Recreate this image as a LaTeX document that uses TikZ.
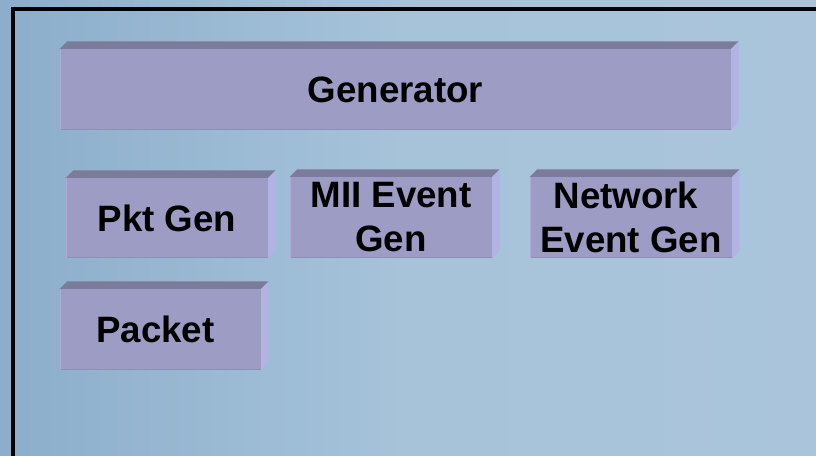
\documentclass[tikz,border=0pt]{standalone}
\usepackage{fontspec}
\setmainfont{Liberation Sans}
\usetikzlibrary{calc}
\definecolor{bgL}{HTML}{8CAECB}
\definecolor{bgM}{HTML}{A6C3DA}
\definecolor{bgR}{HTML}{AAC5DB}
\definecolor{faceC}{HTML}{9D9CC5}
\definecolor{topC}{HTML}{7B7B9C}
\definecolor{sideC}{HTML}{B3B3E3}
\definecolor{botC}{HTML}{8F8EB8}
\definecolor{leftC}{HTML}{ADACD6}
\tikzset{
  cubebox/.style={fill=faceC, inner sep=0pt, align=center,
    font=\bfseries\fontsize{36.7}{44}\selectfont},
  topface/.style={fill=topC},
  sideface/.style={fill=sideC},
  frame/.style={line width=3.5pt, draw=black}
}
\begin{document}
\begin{tikzpicture}[x=1pt,y=-1pt]
\useasboundingbox (0,0) rectangle (816,455);
\clip (0,0) rectangle (816,455);
\shade[left color=bgL, right color=bgR, middle color=bgM] (0,0) rectangle (816,455);
\draw[frame] (12.75,470) -- (12.75,9) -- (830,9);

\node[cubebox, minimum width=671pt, minimum height=81pt] (gen) at (395.5,89.5) {Generator};
\node[cubebox, minimum width=202pt, minimum height=80pt] (pkt) at (167,218) {Pkt Gen};
\node[cubebox, minimum width=202pt, minimum height=81pt] (mii) at (391,217.5) {MII Event\\Gen};
\node[cubebox, minimum width=202pt, minimum height=81pt] (net) at (631,217.5) {Network\hspace*{0.278em}\\Event Gen};
\node[cubebox, minimum width=201pt, minimum height=81pt] (pack) at (160.5,329.5) {Packet\hspace*{0.278em}};

\foreach \n in {gen,pkt,mii,net,pack}{
  \fill[topface] (\n.north west) -- ++(7.5,-7.5) -- ($(\n.north east)+(7.5,-7.5)$) -- (\n.north east) -- cycle;
  \fill[sideface] (\n.north east) -- ++(7.5,-7.5) -- ($(\n.south east)+(7.5,-7.5)$) -- (\n.south east) -- cycle;
  \draw[botC, line width=1.2pt] ($(\n.south west)+(0,-0.6)$) -- ($(\n.south east)+(0,-0.6)$);
  \draw[leftC, line width=1.2pt] ($(\n.south west)+(0.6,0)$) -- ($(\n.north west)+(0.6,0)$);
}
\end{tikzpicture}
\end{document}
